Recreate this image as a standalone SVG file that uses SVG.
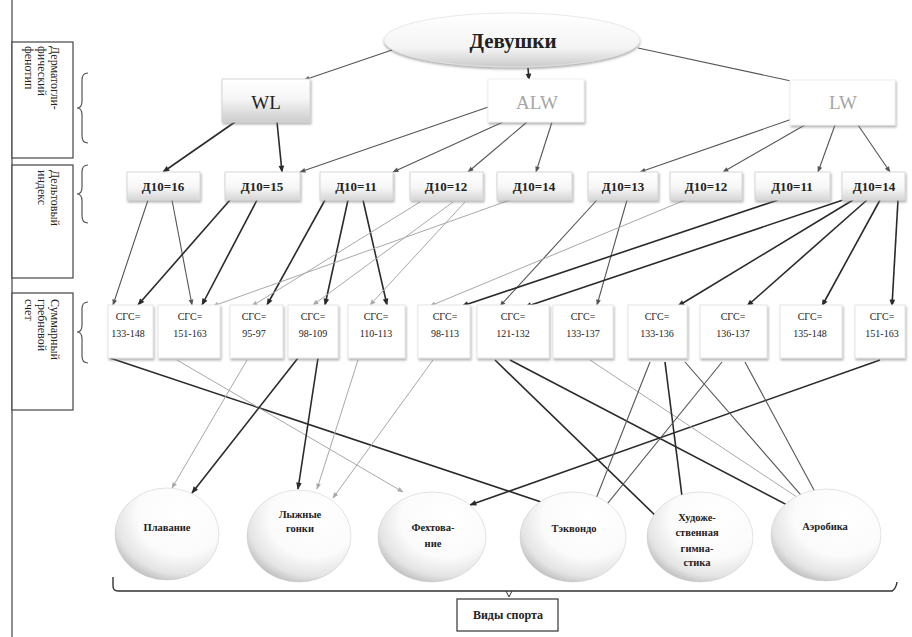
<svg xmlns="http://www.w3.org/2000/svg" width="912" height="637" viewBox="0 0 912 637">
  <defs>
    <style>
      text { font-family: 'Liberation Serif', 'DejaVu Serif', 'Times New Roman', serif; fill: #222; }
      .side { font-size: 12px; }
      .d10 { font-size: 13px; font-weight: bold; text-anchor: middle; }
      .sgs { font-size: 10px; text-anchor: middle; }
      .sport { font-size: 10.5px; font-weight: bold; text-anchor: middle; }
      .frame { fill: #fff; stroke: #444; stroke-width: 1.2; }
      .brace { fill: none; stroke: #555; stroke-width: 1.2; }
      .tier { fill: url(#tierFill); stroke: #d8d8d8; stroke-width: 1; filter: url(#shadow); }
      .card { fill: #fff; stroke: #e6e6e6; stroke-width: 1; filter: url(#shadow); }
      .ball { fill: url(#ballFill); stroke: #c8c8c8; stroke-width: 0.5; }
      .dark { stroke: #2a2a2a; stroke-width: 1.6; fill: none; marker-end: url(#headDark); }
      .mid { stroke: #555; stroke-width: 1.1; fill: none; marker-end: url(#headMid); }
      .light { stroke: #a8a8a8; stroke-width: 1; fill: none; marker-end: url(#headLight); }
    </style>
    <linearGradient id="tierFill" x1="0" y1="0" x2="0" y2="1">
      <stop offset="0" stop-color="#ffffff"/>
      <stop offset="0.55" stop-color="#f7f7f7"/>
      <stop offset="1" stop-color="#d6d6d6"/>
    </linearGradient>
    <linearGradient id="wlFill" x1="0" y1="0" x2="0" y2="1">
      <stop offset="0" stop-color="#ffffff"/>
      <stop offset="0.45" stop-color="#f6f6f6"/>
      <stop offset="1" stop-color="#cdcdcd"/>
    </linearGradient>
    <linearGradient id="rootFill" x1="0" y1="0" x2="0" y2="1">
      <stop offset="0" stop-color="#ffffff"/>
      <stop offset="0.65" stop-color="#f4f4f4"/>
      <stop offset="1" stop-color="#cacaca"/>
    </linearGradient>
    <!-- sphere shading: lit from the upper right -->
    <radialGradient id="ballFill" cx="0.62" cy="0.32" r="0.78" fx="0.66" fy="0.28">
      <stop offset="0" stop-color="#ffffff"/>
      <stop offset="0.55" stop-color="#fbfbfb"/>
      <stop offset="0.8" stop-color="#e4e4e4"/>
      <stop offset="1" stop-color="#ababab"/>
    </radialGradient>
    <filter id="shadow" x="-10%" y="-10%" width="130%" height="140%">
      <feDropShadow dx="1" dy="2" stdDeviation="1" flood-color="#777" flood-opacity="0.55"/>
    </filter>
    <filter id="soft" x="-10%" y="-20%" width="120%" height="150%">
      <feDropShadow dx="0" dy="2" stdDeviation="1.2" flood-color="#666" flood-opacity="0.5"/>
    </filter>
    <marker id="headDark" viewBox="0 0 10 10" refX="9" refY="5" markerWidth="8" markerHeight="7" markerUnits="userSpaceOnUse" orient="auto">
      <path d="M0,1 L10,5 L0,9 z" fill="#2a2a2a"/>
    </marker>
    <marker id="headMid" viewBox="0 0 10 10" refX="9" refY="5" markerWidth="7" markerHeight="6" markerUnits="userSpaceOnUse" orient="auto">
      <path d="M0,1 L10,5 L0,9 z" fill="#555"/>
    </marker>
    <marker id="headLight" viewBox="0 0 10 10" refX="9" refY="5" markerWidth="7" markerHeight="6" markerUnits="userSpaceOnUse" orient="auto">
      <path d="M0,1 L10,5 L0,9 z" fill="#a8a8a8"/>
    </marker>
  </defs>

  <rect x="0" y="0" width="912" height="637" fill="#fff"/>

  <!-- left margin rule and row captions -->
  <g id="row-captions">
    <line x1="12" y1="0" x2="12" y2="637" stroke="#444" stroke-width="1.2"/>
    <rect class="frame" x="12" y="42" width="61" height="116"/>
    <rect class="frame" x="12" y="165" width="61" height="113"/>
    <rect class="frame" x="12" y="293" width="61" height="117"/>
    <text class="side" transform="translate(51,46) rotate(90)"><tspan x="0" dy="0">Дерматогли-</tspan><tspan x="0" dy="13">фический</tspan><tspan x="0" dy="13">фенотип</tspan></text>
    <text class="side" transform="translate(51,170) rotate(90)"><tspan x="0" dy="0">Дельтовый</tspan><tspan x="0" dy="13">индекс</tspan></text>
    <text class="side" transform="translate(51,299) rotate(90)"><tspan x="0" dy="0">Суммарный</tspan><tspan x="0" dy="13">гребневой</tspan><tspan x="0" dy="13">счет</tspan></text>
    <path class="brace" d="M88,73 Q82,73 82,80 L82,101 Q82,108 77,108 Q82,108 82,115 L82,136 Q82,143 88,143"/>
    <path class="brace" d="M88,165 Q82,165 82,172 L82,187 Q82,194 77,194 Q82,194 82,201 L82,216 Q82,223 88,223"/>
    <path class="brace" d="M88,302 Q82,302 82,309 L82,325 Q82,332 77,332 Q82,332 82,339 L82,356 Q82,363 88,363"/>
  </g>

  <!-- connectors -->
  <g id="connectors">
    <line class="mid" x1="392" y1="50" x2="304" y2="80"/>
    <line class="dark" x1="528" y1="68" x2="529" y2="80"/>
    <line class="mid" x1="638" y1="48" x2="805" y2="84"/>

    <line class="dark" x1="235" y1="122" x2="163" y2="172"/>
    <line class="dark" x1="277" y1="122" x2="282" y2="172"/>
    <line class="mid" x1="497" y1="104" x2="300" y2="172"/>
    <line class="mid" x1="503" y1="122" x2="393" y2="172"/>
    <line class="mid" x1="527" y1="122" x2="468" y2="172"/>
    <line class="mid" x1="552" y1="122" x2="536" y2="172"/>
    <line class="mid" x1="795" y1="118" x2="640" y2="172"/>
    <line class="mid" x1="810" y1="122" x2="723" y2="172"/>
    <line class="mid" x1="835" y1="125" x2="818" y2="172"/>
    <line class="mid" x1="858" y1="125" x2="890" y2="172"/>

    <line class="mid" x1="148" y1="200" x2="113" y2="305"/>
    <line class="mid" x1="172" y1="200" x2="192" y2="305"/>
    <line class="dark" x1="230" y1="200" x2="138" y2="305"/>
    <line class="dark" x1="257" y1="200" x2="202" y2="305"/>
    <line class="dark" x1="325" y1="200" x2="267" y2="305"/>
    <line class="dark" x1="348" y1="200" x2="325" y2="305"/>
    <line class="dark" x1="363" y1="200" x2="387" y2="305"/>
    <line class="light" x1="420" y1="202" x2="252" y2="306"/>
    <line class="light" x1="453" y1="202" x2="313" y2="305"/>
    <line class="light" x1="465" y1="202" x2="370" y2="305"/>
    <line class="light" x1="510" y1="200" x2="213" y2="306"/>
    <line class="mid" x1="597" y1="200" x2="500" y2="306"/>
    <line class="mid" x1="627" y1="200" x2="597" y2="305"/>
    <line class="light" x1="685" y1="200" x2="430" y2="306"/>
    <line class="dark" x1="778" y1="200" x2="462" y2="306"/>
    <line class="dark" x1="843" y1="200" x2="525" y2="307"/>
    <line class="dark" x1="853" y1="200" x2="678" y2="306"/>
    <line class="dark" x1="867" y1="200" x2="747" y2="306"/>
    <line class="dark" x1="880" y1="200" x2="822" y2="306"/>
    <line class="dark" x1="898" y1="200" x2="892" y2="306"/>

    <line class="dark" x1="110" y1="358" x2="565" y2="510"/>
    <line class="light" x1="177" y1="360" x2="403" y2="492"/>
    <line class="light" x1="247" y1="360" x2="172" y2="488"/>
    <line class="dark" x1="298" y1="358" x2="192" y2="493"/>
    <line class="dark" x1="318" y1="358" x2="298" y2="489"/>
    <line class="light" x1="358" y1="360" x2="317" y2="489"/>
    <line class="light" x1="433" y1="360" x2="333" y2="498"/>
    <line class="dark" x1="880" y1="360" x2="470" y2="505"/>
    <line class="dark" x1="495" y1="360" x2="660" y2="520"/>
    <line class="dark" x1="510" y1="360" x2="812" y2="518"/>
    <line class="light" x1="590" y1="360" x2="830" y2="519"/>
    <line class="mid" x1="650" y1="362" x2="588" y2="519"/>
    <line class="dark" x1="665" y1="362" x2="685" y2="520"/>
    <line class="mid" x1="685" y1="362" x2="820" y2="517"/>
    <line class="mid" x1="722" y1="362" x2="595" y2="519"/>
    <line class="mid" x1="745" y1="362" x2="828" y2="516"/>
  </g>

  <!-- root -->
  <g id="girls">
    <ellipse cx="512" cy="40" rx="128" ry="27" fill="url(#rootFill)" stroke="#e4e4e4" stroke-width="0.8" filter="url(#soft)"/>
    <text x="513" y="48" font-size="21" font-weight="bold" text-anchor="middle">Девушки</text>
  </g>

  <!-- dermatoglyphic phenotypes -->
  <g id="wl">
    <rect x="222" y="79" width="88" height="43" fill="url(#wlFill)" stroke="#d6d6d6" filter="url(#shadow)"/>
    <text x="266" y="109" font-size="19" text-anchor="middle">WL</text>
  </g>
  <g id="alw">
    <rect class="card" x="488" y="79" width="96" height="43" style="stroke:#f0f0f0"/>
    <text x="537" y="109" font-size="19" text-anchor="middle" style="fill:#a6a6a6">ALW</text>
  </g>
  <g id="lw">
    <rect class="card" x="790" y="80" width="105" height="45" style="stroke:#f0f0f0"/>
    <text x="843" y="109" font-size="19" text-anchor="middle" style="fill:#a6a6a6">LW</text>
  </g>

  <!-- delta index -->
  <g id="d10-16"><rect class="tier" x="127" y="172" width="73" height="28"/><text class="d10" x="163" y="191">Д10=16</text></g>
  <g id="d10-15"><rect class="tier" x="225" y="172" width="75" height="28"/><text class="d10" x="262" y="191">Д10=15</text></g>
  <g id="d10-11a"><rect class="tier" x="320" y="172" width="73" height="28"/><text class="d10" x="356" y="191">Д10=11</text></g>
  <g id="d10-12a"><rect class="tier" x="410" y="172" width="73" height="28"/><text class="d10" x="446" y="191">Д10=12</text></g>
  <g id="d10-14a"><rect class="tier" x="497" y="172" width="75" height="28"/><text class="d10" x="534" y="191">Д10=14</text></g>
  <g id="d10-13"><rect class="tier" x="588" y="172" width="70" height="28"/><text class="d10" x="623" y="191">Д10=13</text></g>
  <g id="d10-12b"><rect class="tier" x="670" y="172" width="72" height="28"/><text class="d10" x="706" y="191">Д10=12</text></g>
  <g id="d10-11b"><rect class="tier" x="755" y="172" width="75" height="28"/><text class="d10" x="792" y="191">Д10=11</text></g>
  <g id="d10-14b"><rect class="tier" x="842" y="172" width="63" height="28"/><text class="d10" x="874" y="191">Д10=14</text></g>

  <!-- total ridge count -->
  <g id="sgs-133-148"><rect class="card" x="108" y="305" width="45" height="53"/><text class="sgs" x="128" y="320">СГС=</text><text class="sgs" x="128" y="337">133-148</text></g>
  <g id="sgs-151-163a"><rect class="card" x="158" y="305" width="62" height="53"/><text class="sgs" x="190" y="320">СГС=</text><text class="sgs" x="190" y="337">151-163</text></g>
  <g id="sgs-95-97"><rect class="card" x="230" y="305" width="53" height="53"/><text class="sgs" x="254" y="320">СГС=</text><text class="sgs" x="254" y="337">95-97</text></g>
  <g id="sgs-98-109"><rect class="card" x="288" y="305" width="50" height="53"/><text class="sgs" x="313" y="320">СГС=</text><text class="sgs" x="313" y="337">98-109</text></g>
  <g id="sgs-110-113"><rect class="card" x="348" y="305" width="57" height="53"/><text class="sgs" x="376" y="320">СГС=</text><text class="sgs" x="376" y="337">110-113</text></g>
  <g id="sgs-98-113"><rect class="card" x="418" y="305" width="52" height="53"/><text class="sgs" x="445" y="320">СГС=</text><text class="sgs" x="445" y="337">98-113</text></g>
  <g id="sgs-121-132"><rect class="card" x="477" y="305" width="72" height="53"/><text class="sgs" x="513" y="320">СГС=</text><text class="sgs" x="513" y="337">121-132</text></g>
  <g id="sgs-133-137"><rect class="card" x="553" y="305" width="60" height="53"/><text class="sgs" x="583" y="320">СГС=</text><text class="sgs" x="583" y="337">133-137</text></g>
  <g id="sgs-133-136"><rect class="card" x="628" y="305" width="59" height="53"/><text class="sgs" x="657" y="320">СГС=</text><text class="sgs" x="657" y="337">133-136</text></g>
  <g id="sgs-136-137"><rect class="card" x="700" y="305" width="67" height="53"/><text class="sgs" x="733" y="320">СГС=</text><text class="sgs" x="733" y="337">136-137</text></g>
  <g id="sgs-135-148"><rect class="card" x="780" y="305" width="62" height="53"/><text class="sgs" x="810" y="320">СГС=</text><text class="sgs" x="810" y="337">135-148</text></g>
  <g id="sgs-151-163b"><rect class="card" x="855" y="305" width="50" height="53"/><text class="sgs" x="882" y="320">СГС=</text><text class="sgs" x="882" y="337">151-163</text></g>

  <!-- sports -->
  <g id="swimming"><ellipse class="ball" cx="167" cy="534" rx="52" ry="46"/><text class="sport" x="167" y="531">Плавание</text></g>
  <g id="skiing"><ellipse class="ball" cx="299" cy="536" rx="52" ry="46"/><text class="sport" x="300" y="518">Лыжные</text><text class="sport" x="300" y="532">гонки</text></g>
  <g id="fencing"><ellipse class="ball" cx="432" cy="537" rx="54" ry="45"/><text class="sport" x="433" y="531">Фехтова-</text><text class="sport" x="433" y="547">ние</text></g>
  <g id="taekwondo"><ellipse class="ball" cx="573" cy="537" rx="53" ry="45"/><text class="sport" x="574" y="532">Тэквондо</text></g>
  <g id="rhythmic"><ellipse class="ball" cx="700" cy="537" rx="53" ry="45"/><text class="sport" x="697" y="521">Художе-</text><text class="sport" x="697" y="536">ственная</text><text class="sport" x="697" y="552">гимна-</text><text class="sport" x="697" y="566">стика</text></g>
  <g id="aerobics"><ellipse class="ball" cx="826" cy="535" rx="55" ry="46"/><text class="sport" x="825" y="530">Аэробика</text></g>

  <!-- grouping bracket and caption -->
  <g id="kinds-of-sport">
    <path d="M113,577 L113,586 Q113,591 118,591 L892,591 Q896,589 897,582" fill="none" stroke="#333" stroke-width="1.4"/>
    <path d="M506,591 L509,597 L512,591" fill="none" stroke="#333" stroke-width="1"/>
    <rect x="457" y="599" width="101" height="32" fill="#fff" stroke="#333" stroke-width="1.2"/>
    <text x="508" y="619" font-size="12" font-weight="bold" text-anchor="middle">Виды спорта</text>
  </g>
</svg>
